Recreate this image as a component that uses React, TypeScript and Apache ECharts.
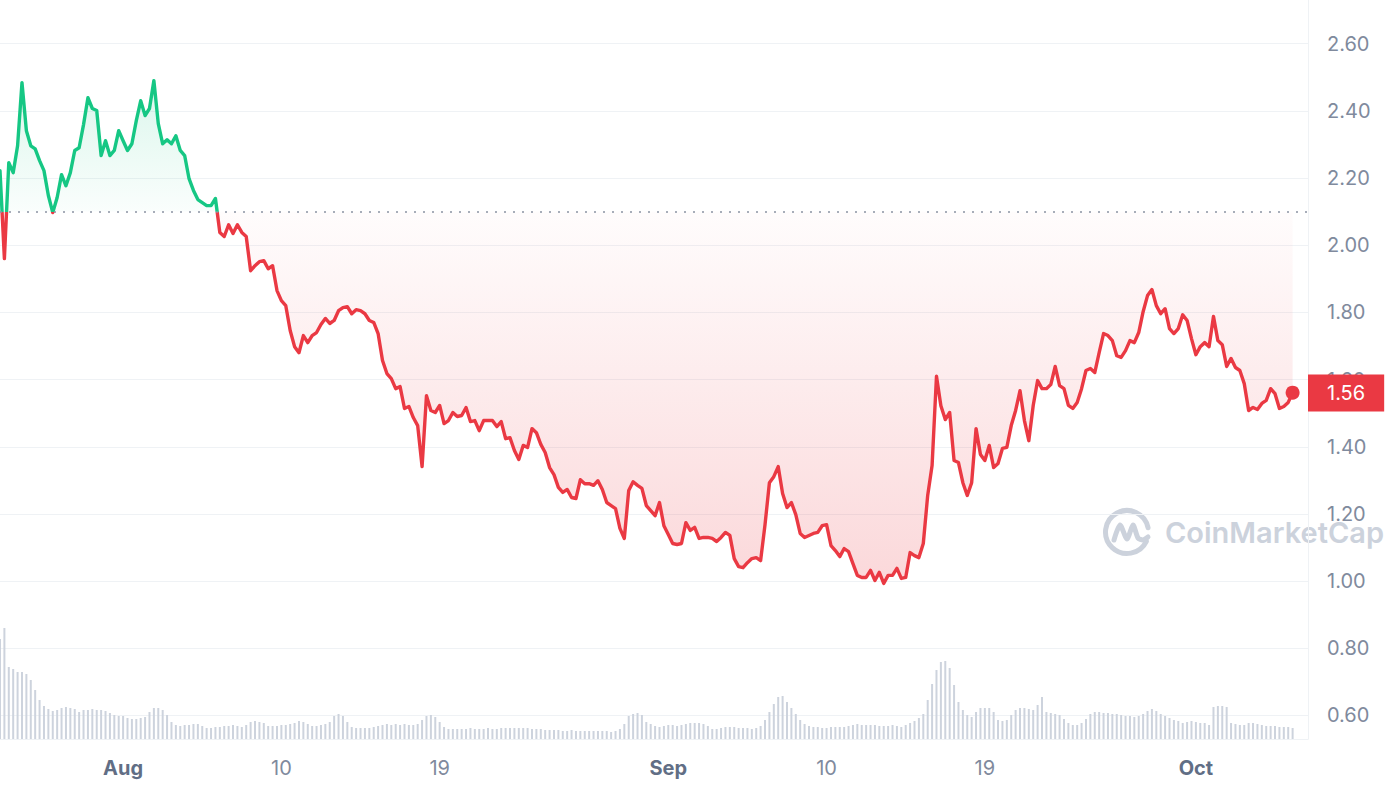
import React, { useEffect, useRef } from "react";
import * as echarts from "echarts";

// ---- data ----
const START = Date.UTC(2023, 6, 25, 0); // first sample
const STEP_HOURS = 6;
const X_MAX = Date.UTC(2023, 9, 7, 9);
const BASE_PRICE = 2.1; // dotted reference line (period open)

const TICK_DATES = ["2023-08-01", "2023-08-10", "2023-08-19", "2023-09-01", "2023-09-10", "2023-09-19", "2023-10-01"];
const Y_TICKS = [0.6, 0.8, 1.0, 1.2, 1.4, 1.6, 1.8, 2.0, 2.2, 2.4, 2.6];
const MONTHS = ["Jan", "Feb", "Mar", "Apr", "May", "Jun", "Jul", "Aug", "Sep", "Oct", "Nov", "Dec"];

const PRICES = [
  2.222, 1.96, 2.246, 2.216, 2.296, 2.484, 2.341, 2.296, 2.287, 2.252,
  2.222, 2.148, 2.097, 2.142, 2.21, 2.177, 2.216, 2.282, 2.29, 2.359,
  2.439, 2.407, 2.401, 2.267, 2.311, 2.267, 2.282, 2.341, 2.311, 2.282,
  2.302, 2.371, 2.43, 2.386, 2.407, 2.49, 2.362, 2.302, 2.314, 2.302,
  2.326, 2.282, 2.267, 2.198, 2.163, 2.136, 2.127, 2.118, 2.118, 2.139,
  2.038, 2.026, 2.061, 2.035, 2.061, 2.038, 2.026, 1.924, 1.939, 1.951,
  1.954, 1.93, 1.939, 1.865, 1.835, 1.82, 1.746, 1.698, 1.68, 1.731,
  1.71, 1.731, 1.74, 1.764, 1.782, 1.767, 1.776, 1.805, 1.814, 1.817,
  1.796, 1.808, 1.805, 1.796, 1.776, 1.77, 1.737, 1.657, 1.618, 1.603,
  1.573, 1.579, 1.514, 1.52, 1.487, 1.463, 1.341, 1.552, 1.508, 1.502,
  1.523, 1.469, 1.478, 1.502, 1.49, 1.493, 1.517, 1.475, 1.478, 1.448,
  1.478, 1.478, 1.478, 1.46, 1.475, 1.424, 1.427, 1.389, 1.362, 1.404,
  1.398, 1.454, 1.442, 1.407, 1.383, 1.338, 1.317, 1.279, 1.264, 1.273,
  1.249, 1.246, 1.302, 1.29, 1.29, 1.285, 1.299, 1.273, 1.234, 1.225,
  1.216, 1.157, 1.127, 1.27, 1.296, 1.285, 1.276, 1.225, 1.21, 1.195,
  1.234, 1.165, 1.139, 1.112, 1.109, 1.112, 1.174, 1.151, 1.16, 1.127,
  1.13, 1.13, 1.127, 1.118, 1.13, 1.145, 1.136, 1.067, 1.043, 1.04,
  1.055, 1.067, 1.07, 1.061, 1.168, 1.293, 1.311, 1.341, 1.261, 1.219,
  1.234, 1.198, 1.142, 1.13, 1.136, 1.142, 1.145, 1.165, 1.168, 1.106,
  1.091, 1.073, 1.097, 1.088, 1.052, 1.017, 1.011, 1.011, 1.032, 1.002,
  1.026, 0.993, 1.017, 1.017, 1.038, 1.008, 1.011, 1.085, 1.076, 1.07,
  1.112, 1.255, 1.344, 1.61, 1.522, 1.481, 1.502, 1.359, 1.353, 1.293,
  1.255, 1.293, 1.454, 1.377, 1.359, 1.404, 1.338, 1.35, 1.395, 1.398,
  1.463, 1.508, 1.567, 1.478, 1.418, 1.523, 1.597, 1.573, 1.573, 1.585,
  1.639, 1.582, 1.573, 1.523, 1.514, 1.532, 1.573, 1.627, 1.633, 1.621,
  1.68, 1.737, 1.731, 1.716, 1.671, 1.666, 1.686, 1.716, 1.71, 1.74,
  1.802, 1.85, 1.868, 1.82, 1.796, 1.811, 1.752, 1.737, 1.752, 1.793,
  1.776, 1.722, 1.674, 1.698, 1.71, 1.698, 1.788, 1.716, 1.704, 1.639,
  1.663, 1.636, 1.627, 1.588, 1.508, 1.517, 1.511, 1.529, 1.538, 1.573,
  1.558, 1.514, 1.52, 1.532, 1.561,
];

// trading volume (relative units, millions)
const VOLUME = [
  100, 111, 72, 70, 67, 67, 65, 59, 49, 39,
  33, 30, 28, 29, 31, 32, 31, 30, 27, 29,
  29, 30, 29, 29, 28, 26, 24, 23, 23, 21,
  20, 20, 21, 22, 27, 31, 31, 29, 24, 17,
  14, 13, 14, 14, 15, 15, 13, 11, 11, 12,
  12, 13, 13, 14, 13, 12, 14, 17, 18, 17,
  16, 13, 13, 13, 14, 14, 15, 16, 18, 17,
  15, 13, 13, 14, 15, 17, 23, 25, 23, 17,
  12, 11, 11, 11, 11, 12, 13, 14, 15, 14,
  15, 14, 15, 14, 14, 15, 19, 23, 24, 22,
  17, 12, 10, 10, 10, 10, 10, 11, 10, 10,
  10, 11, 10, 10, 11, 11, 11, 11, 11, 11,
  11, 10, 10, 10, 9, 9, 9, 9, 8, 8,
  9, 8, 8, 8, 8, 8, 8, 8, 8, 7,
  8, 10, 15, 23, 25, 26, 24, 17, 15, 13,
  12, 13, 14, 14, 13, 14, 15, 16, 16, 16,
  15, 13, 10, 10, 11, 12, 12, 12, 11, 11,
  11, 10, 11, 13, 19, 27, 35, 42, 43, 37,
  31, 25, 19, 15, 13, 12, 12, 11, 11, 12,
  12, 12, 12, 13, 14, 15, 14, 14, 14, 14,
  13, 13, 13, 14, 13, 12, 14, 16, 18, 21,
  25, 39, 55, 69, 77, 78, 71, 54, 37, 29,
  24, 22, 27, 31, 31, 31, 27, 19, 18, 19,
  24, 29, 31, 31, 30, 29, 34, 42, 27, 26,
  25, 24, 20, 16, 14, 14, 16, 20, 25, 27,
  27, 26, 26, 25, 25, 24, 23, 23, 22, 23,
  25, 28, 30, 28, 25, 23, 21, 19, 18, 16,
  17, 18, 17, 16, 16, 14, 32, 33, 33, 32,
  16, 15, 14, 14, 16, 16, 15, 14, 13, 13,
  13, 12, 12, 12, 11,
];

const GREEN = "#16c784";
const RED = "#ea3943";
const GRID_COLOR = "#eff2f5";
const LABEL_COLOR = "#808a9d";
const CLEAR = "rgba(0,0,0,0)";

export default function App() {
  const ref = useRef<HTMLDivElement | null>(null);

  useEffect(() => {
    if (!ref.current) return;
    const chart = echarts.init(ref.current, undefined, { renderer: "svg" });

    const times = PRICES.map((_, i) => START + i * STEP_HOURS * 3600 * 1000);
    const line = PRICES.map((v, i) => [times[i], v]);
    const above = PRICES.map((v, i) => [times[i], Math.max(v, BASE_PRICE)]);
    const below = PRICES.map((v, i) => [times[i], Math.min(v, BASE_PRICE)]);
    const vol = VOLUME.map((v, i) => [times[i], v]);
    const lastT = times[times.length - 1];
    const lastV = PRICES[PRICES.length - 1];
    const tickTimes = TICK_DATES.map((d) => new Date(d + "T00:00:00Z").getTime());

    const dateLabel = (val: number) => {
      const d = new Date(val);
      if (d.getUTCDate() === 1) return "{m|" + MONTHS[d.getUTCMonth()] + "}";
      return "{d|" + d.getUTCDate() + "}";
    };

    const option: any = {
      animation: false,
      backgroundColor: "#ffffff",
      textStyle: { fontFamily: "Inter, 'Noto Sans', sans-serif" },
      grid: {
        left: 0,
        right: 84,
        top: 0,
        bottom: 53,
        containLabel: false,
      },
      xAxis: {
        type: "value",
        min: START,
        max: X_MAX,
        axisLine: { show: true, lineStyle: { color: GRID_COLOR, width: 1 } },
        axisTick: { show: false },
        splitLine: { show: false },
        axisLabel: { show: false },
      },
      yAxis: [
        {
          type: "value",
          position: "right",
          min: 0.53,
          max: 2.73,
          axisLine: { show: true, lineStyle: { color: GRID_COLOR, width: 1 } },
          axisTick: { show: false },
          splitLine: { show: false },
          axisLabel: { show: false },
        },
        {
          type: "value",
          show: false,
          min: 0,
          max: 739,
          splitLine: { show: false },
        },
      ],
      visualMap: {
        type: "piecewise",
        show: false,
        seriesIndex: 3,
        dimension: 1,
        pieces: [
          { gte: 0, lt: BASE_PRICE, color: RED },
          { gte: BASE_PRICE, lte: 10, color: GREEN },
        ],
        outOfRange: { color: RED },
      },
      graphic: [
        {
          type: "group",
          x: 1127,
          y: 532,
          z: 0,
          silent: true,
          children: [
            {
              type: "arc",
              shape: { cx: 0, cy: 0, r: 21.5, startAngle: 0.45, endAngle: -0.2, clockwise: true },
              style: { stroke: "#ccd2dc", lineWidth: 5, fill: "none", lineCap: "round" },
            },
            {
              type: "polyline",
              shape: {
                points: [[-13, 8], [-7, -7], [0, 7], [6, -7], [11, 6], [16, 8], [21, 5]],
                smooth: 0.25,
              },
              style: { stroke: "#ccd2dc", lineWidth: 5, fill: "none", lineCap: "round", lineJoin: "round" },
            },
          ],
        },
        {
          type: "text",
          x: 1165,
          y: 532,
          z: 0,
          silent: true,
          style: {
            text: "CoinMarketCap",
            fill: "#ccd2dc",
            font: "600 29px Inter",
            verticalAlign: "middle",
          },
        },
      ],
      series: [
        {
          name: "Volume",
          type: "bar",
          yAxisIndex: 1,
          data: vol,
          barWidth: 2,
          itemStyle: { color: "#cdd3dd" },
          z: 1,
          silent: true,
        },
        {
          name: "above",
          type: "line",
          data: above,
          symbol: "none",
          lineStyle: { width: 0, opacity: 0 },
          areaStyle: {
            origin: BASE_PRICE,
            color: new echarts.graphic.LinearGradient(0, 0, 0, 1, [
              { offset: 0, color: "rgba(22,199,132,0.22)" },
              { offset: 1, color: "rgba(22,199,132,0.03)" },
            ]),
          },
          z: 2,
          silent: true,
          // horizontal grid lines + price tick labels
          markLine: {
            silent: true,
            z: 0,
            symbol: ["none", "none"],
            lineStyle: { type: "solid", color: GRID_COLOR, width: 1 },
            label: {
              show: true,
              position: "end",
              distance: 19,
              color: LABEL_COLOR,
              fontSize: 20,
              fontFamily: "Inter",
              formatter: (p: any) => Number(p.value).toFixed(2),
            },
            data: Y_TICKS.map((v) => ({ yAxis: v })),
          },
        },
        {
          name: "below",
          type: "line",
          data: below,
          symbol: "none",
          lineStyle: { width: 0, opacity: 0 },
          areaStyle: {
            origin: BASE_PRICE,
            color: new echarts.graphic.LinearGradient(0, 0, 0, 1, [
              { offset: 0, color: "rgba(234,57,67,0.02)" },
              { offset: 1, color: "rgba(234,57,67,0.28)" },
            ]),
          },
          z: 2,
          silent: true,
          // date tick labels
          markLine: {
            silent: true,
            z: 0,
            symbol: ["none", "none"],
            lineStyle: { color: CLEAR, width: 0 },
            label: {
              show: true,
              position: "start",
              distance: 19,
              color: LABEL_COLOR,
              formatter: (p: any) => dateLabel(Number(p.value)),
              rich: {
                m: { fontSize: 20, fontWeight: 700, color: "#616e85", fontFamily: "Inter" },
                d: { fontSize: 20, fontWeight: 400, color: LABEL_COLOR, fontFamily: "Inter" },
              },
            },
            data: tickTimes.map((t) => ({ xAxis: t })),
          },
        },
        {
          name: "Price",
          type: "line",
          data: line,
          symbol: "none",
          showSymbol: false,
          lineStyle: { width: 3.4, join: "round", cap: "round" },
          z: 4,
        },
        {
          name: "Last",
          type: "scatter",
          data: [[lastT, lastV]],
          symbolSize: 14,
          itemStyle: { color: RED, opacity: 1 },
          z: 5,
          markLine: {
            silent: true,
            symbol: ["none", "none"],
            data: [
              {
                yAxis: BASE_PRICE,
                lineStyle: { type: [2, 7], color: "#8b93a3", width: 1.5 },
                label: { show: false },
              },
              {
                yAxis: lastV,
                lineStyle: { color: CLEAR, width: 0 },
                label: {
                  show: true,
                  position: "end",
                  distance: 0,
                  formatter: () => lastV.toFixed(2),
                  backgroundColor: RED,
                  color: "#ffffff",
                  fontSize: 20,
                  fontFamily: "Inter",
                  lineHeight: 21,
                  padding: [8, 19, 8, 19],
                },
              },
            ],
          },
        },
      ],
    };

    chart.setOption(option);
    return () => chart.dispose();
  }, []);

  return (
    <div style={{ position: "fixed", left: 0, top: 0, width: 1392, height: 792, background: "#fff" }}>
      <div ref={ref} style={{ width: 1392, height: 792 }} />
    </div>
  );
}
